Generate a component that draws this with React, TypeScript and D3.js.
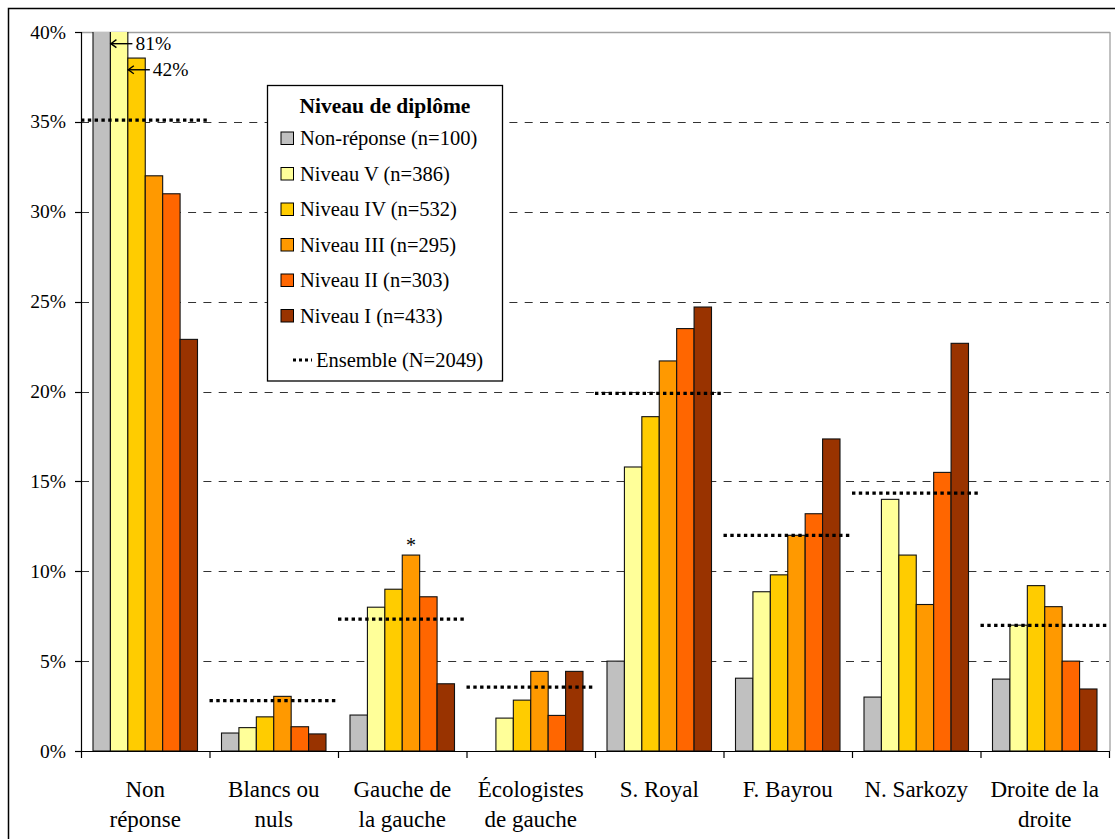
import React from "react";
import * as d3 from "d3";

// ---------- DATA ----------
const categories = [
  "Non réponse",
  "Blancs ou nuls",
  "Gauche de la gauche",
  "Écologistes de gauche",
  "S. Royal",
  "F. Bayrou",
  "N. Sarkozy",
  "Droite de la droite",
];
// label lines for x axis
const categoryLines = [
  ["Non", "réponse"],
  ["Blancs ou", "nuls"],
  ["Gauche de", "la gauche"],
  ["Écologistes", "de gauche"],
  ["S. Royal"],
  ["F. Bayrou"],
  ["N. Sarkozy"],
  ["Droite de la", "droite"],
];

const seriesNames = [
  "Non-réponse (n=100)",
  "Niveau V (n=386)",
  "Niveau IV (n=532)",
  "Niveau III (n=295)",
  "Niveau II (n=303)",
  "Niveau I (n=433)",
];
const seriesColors = ["#C0C0C0", "#FFFF99", "#FFCC00", "#FF9900", "#FF6600", "#993300"];

// values in % (bars above 40% are drawn clipped / broken, real value in annotation)
const nonReponse = [60, 1.0, 2.0, 0, 5.0, 4.05, 3.0, 4.0];
const niveauV = [81, 1.3, 8.0, 1.83, 15.8, 8.86, 14.0, 7.0];
const niveauIV = [38.55, 1.9, 9.0, 2.83, 18.6, 9.8, 10.9, 9.2]; // Non réponse: 42% drawn broken
const niveauIII = [32.0, 3.04, 10.9, 4.43, 21.7, 12.0, 8.15, 8.03];
const niveauII = [31.0, 1.35, 8.58, 1.98, 23.5, 13.2, 15.5, 5.0];
const niveauI = [22.9, 0.95, 3.74, 4.43, 24.7, 17.36, 22.68, 3.45];
const seriesValues = [nonReponse, niveauV, niveauIV, niveauIII, niveauII, niveauI];

const ensemble = [35.1, 2.8, 7.34, 3.55, 19.9, 12.0, 14.35, 6.99];

const yTicks = [0, 5, 10, 15, 20, 25, 30, 35, 40];

// annotations: [series index, category index, label, level (%) of the arrow]
const arrowNotes: [number, number, string, number][] = [
  [1, 0, "81%", 39.35],
  [2, 0, "42%", 37.9],
];
const starNote: [number, number] = [3, 2];

const FONT = "'Liberation Serif', 'Times New Roman', serif";

export default function App() {
  const W = 1115;
  const H = 839;
  const left = 81;
  const right = 1109;
  const top = 32;
  const bottom = 751;

  const x0 = d3.scaleBand<string>().domain(categories).range([left, right]).padding(0);
  const bw = x0.bandwidth();
  const x1 = d3
    .scaleBand<string>()
    .domain(seriesNames)
    .range([12, bw - 12])
    .padding(0);
  const y = d3.scaleLinear().domain([0, 40]).range([bottom, top]);

  const legendX = 267.5;
  const legendY = 85.5;

  return (
    <svg
      width={W}
      height={H}
      style={{ position: "absolute", left: 0, top: 0, display: "block", background: "#fff" }}
      fontFamily={FONT}
    >
      <defs>
        <clipPath id="plotclip">
          <rect x={left} y={top} width={right - left + 2} height={bottom - top + 1} />
        </clipPath>
      </defs>
      <rect x={0} y={0} width={W} height={H} fill="#fff" />
      {/* outer border */}
      <rect x={8.5} y={8.5} width={1300} height={1200} fill="none" stroke="#000" strokeWidth={1.5} />

      {/* plot border top/right */}
      <line x1={left} x2={right + 1} y1={top + 0.5} y2={top + 0.5} stroke="#A0A0A0" strokeWidth={1.3} />
      <line x1={right + 1} x2={right + 1} y1={top} y2={bottom} stroke="#A0A0A0" strokeWidth={1.3} />

      {/* gridlines */}
      {yTicks
        .filter((t) => t > 0 && t < 40)
        .map((t) => (
          <line
            key={"g" + t}
            x1={left}
            x2={right}
            y1={Math.round(y(t)) + 0.5}
            y2={Math.round(y(t)) + 0.5}
            stroke="#333"
            strokeWidth={1}
            strokeDasharray="8,7.3"
          />
        ))}

      {/* bars */}
      <g clipPath="url(#plotclip)">
        {categories.map((c, ci) => (
          <g key={c}>
            {seriesNames.map((s, si) => {
              const v = seriesValues[si][ci];
              if (!v) return null;
              const bx = (x0(c) as number) + (x1(s) as number);
              const by = y(Math.min(v, 41));
              return (
                <rect
                  key={s}
                  x={bx}
                  y={by}
                  width={x1.bandwidth()}
                  height={bottom - by}
                  fill={seriesColors[si]}
                  stroke="#111"
                  strokeWidth={1.1}
                />
              );
            })}
          </g>
        ))}
      </g>

      {/* ensemble dotted lines */}
      {categories.map((c, ci) => (
        <line
          key={"e" + c}
          x1={x0(c) as number}
          x2={(x0(c) as number) + bw}
          y1={y(ensemble[ci])}
          y2={y(ensemble[ci])}
          stroke="#000"
          strokeWidth={3.2}
          strokeDasharray="3.4,3.4"
        />
      ))}

      {/* axes */}
      <line x1={left + 0.5} x2={left + 0.5} y1={top} y2={bottom} stroke="#000" strokeWidth={1.2} />
      <line x1={left} x2={right + 1} y1={bottom + 0.5} y2={bottom + 0.5} stroke="#000" strokeWidth={1.2} />
      {yTicks.map((t) => (
        <g key={"yt" + t}>
          <line x1={left - 6} x2={left} y1={Math.round(y(t)) + 0.5} y2={Math.round(y(t)) + 0.5} stroke="#000" strokeWidth={1.2} />
          <text x={66} y={y(t) + 6.5} textAnchor="end" fontSize={19.5} fill="#000">
            {t + "%"}
          </text>
        </g>
      ))}
      {categories.map((c, ci) => (
        <line
          key={"xt" + c}
          x1={(x0(c) as number) + 0.5}
          x2={(x0(c) as number) + 0.5}
          y1={bottom}
          y2={bottom + 7}
          stroke="#000"
          strokeWidth={1.2}
        />
      ))}
      <line x1={right + 0.5} x2={right + 0.5} y1={bottom} y2={bottom + 7} stroke="#000" strokeWidth={1.2} />
      {categories.map((c, ci) => (
        <text key={"xl" + c} textAnchor="middle" fontSize={23} fill="#000">
          {categoryLines[ci].map((ln, li) => (
            <tspan key={li} x={(x0(c) as number) + bw / 2} y={797 + li * 30}>
              {ln}
            </tspan>
          ))}
        </text>
      ))}

      {/* arrow annotations */}
      {arrowNotes.map(([si, ci, label, lv]) => {
        const tipX = (x0(categories[ci]) as number) + (x1(seriesNames[si]) as number);
        const ay = y(lv);
        return (
          <g key={label}>
            <line x1={tipX} x2={tipX + 22} y1={ay} y2={ay} stroke="#000" strokeWidth={1.4} />
            <path
              d={`M${tipX + 6},${ay - 4} L${tipX + 0.5},${ay} L${tipX + 6},${ay + 4}`}
              fill="none"
              stroke="#000"
              strokeWidth={1.4}
            />
            <text x={tipX + 25} y={ay + 6.5} fontSize={19.5} fill="#000">
              {label}
            </text>
          </g>
        );
      })}

      {/* asterisk */}
      <text
        x={(x0(categories[starNote[1]]) as number) + (x1(seriesNames[starNote[0]]) as number) + x1.bandwidth() / 2}
        y={y(seriesValues[starNote[0]][starNote[1]]) - 3}
        textAnchor="middle"
        fontSize={20}
        fill="#000"
      >
        *
      </text>

      {/* legend */}
      <g>
        <rect x={legendX} y={legendY} width={235} height={295.5} fill="#fff" stroke="#000" strokeWidth={1.3} />
        <text x={legendX + 117.5} y={113} textAnchor="middle" fontSize={21.5} fontWeight="bold" fill="#000">
          Niveau de diplôme
        </text>
        {seriesNames.map((s, si) => {
          const cy = 138.5 + si * 35.5;
          return (
            <g key={"lg" + s}>
              <rect x={281} y={cy - 6.5} width={12.5} height={12.5} fill={seriesColors[si]} stroke="#000" strokeWidth={1} />
              <text x={300} y={cy + 6.5} fontSize={20.5} fill="#000">
                {s}
              </text>
            </g>
          );
        })}
        <line x1={293} x2={312} y1={360} y2={360} stroke="#000" strokeWidth={3} strokeDasharray="3,3" />
        <text x={316} y={366.5} fontSize={20.5} fill="#000">
          Ensemble (N=2049)
        </text>
      </g>
    </svg>
  );
}
